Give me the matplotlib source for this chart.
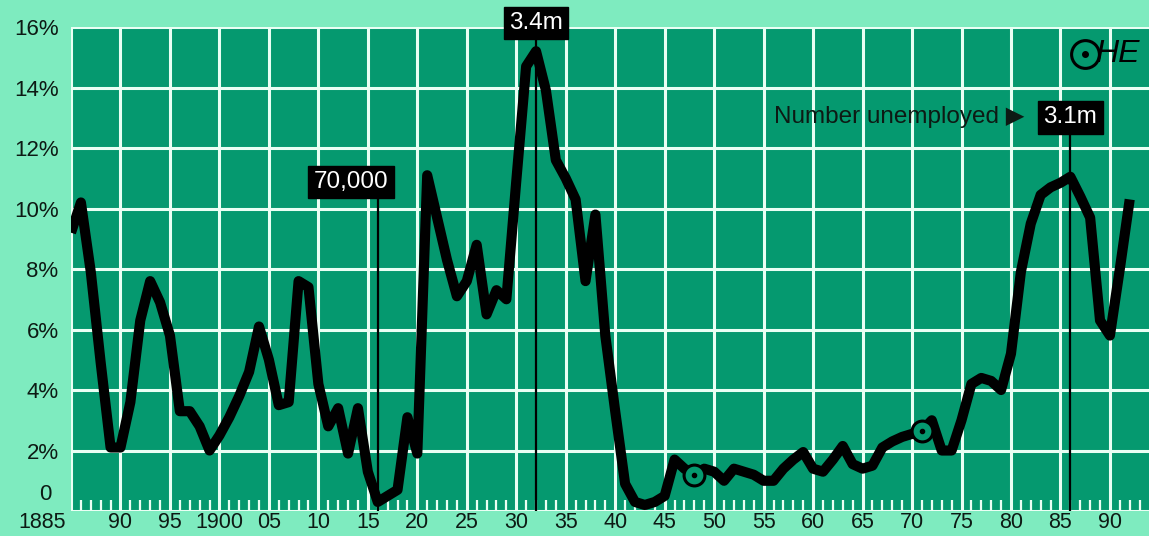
import matplotlib
matplotlib.use("Agg")
import matplotlib.pyplot as plt
from matplotlib.ticker import FixedLocator
from matplotlib.transforms import offset_copy

# Unemployment rate (%), one value per year
years = list(range(1885, 1993))
rate = [
    9.2, 10.2, 7.9, 4.9, 2.1, 2.1, 3.6, 6.3, 7.6, 6.9,        # 1885-1894
    5.8, 3.3, 3.3, 2.8, 2.0, 2.5, 3.1, 3.8, 4.6, 6.1,         # 1895-1904
    5.0, 3.5, 3.6, 7.6, 7.4, 4.2, 2.8, 3.4, 1.9, 3.4,         # 1905-1914
    1.3, 0.3, 0.5, 0.7, 3.1, 1.9, 11.1, 9.7, 8.3, 7.1,        # 1915-1924
    7.6, 8.8, 6.5, 7.3, 7.0, 10.9, 14.7, 15.2, 13.9, 11.6,    # 1925-1934
    11.0, 10.3, 7.6, 9.8, 5.8, 3.3, 0.9, 0.3, 0.2, 0.3,       # 1935-1944
    0.5, 1.7, 1.4, 1.2, 1.4, 1.3, 1.0, 1.4, 1.3, 1.2,         # 1945-1954
    1.0, 1.0, 1.4, 1.7, 1.95, 1.4, 1.3, 1.7, 2.15, 1.55,      # 1955-1964
    1.4, 1.5, 2.1, 2.3, 2.45, 2.55, 2.65, 3.0, 2.0, 2.0,      # 1965-1974
    3.0, 4.2, 4.4, 4.3, 4.0, 5.2, 7.9, 9.5, 10.45, 10.7,      # 1975-1984
    10.85, 11.05, 10.4, 9.7, 6.3, 5.8, 8.0, 10.3,             # 1985-1992
]

x_ticks = list(range(1885, 1995, 5))
x_labels = ["1885", "90", "95", "1900", "05", "10", "15", "20", "25", "30", "35",
            "40", "45", "50", "55", "60", "65", "70", "75", "80", "85", "90"]
y_ticks = [0, 2, 4, 6, 8, 10, 12, 14, 16]
y_labels = ["0", "2%", "4%", "6%", "8%", "10%", "12%", "14%", "16%"]

# Call-outs: year of the marker line and the number unemployed
callout_years = [1916, 1932, 1986]
callout_text = ["70,000", "3.4m", "3.1m"]
ring_years = [1948, 1971]

OUTER = "#7eebbf"
INNER = "#05996f"
GRID = "#e9fff4"
INK = "#0d1a14"
FONT = ["Liberation Sans", "DejaVu Sans"]

plt.rcParams["font.family"] = FONT

fig = plt.figure(figsize=(11.49, 5.36), dpi=100, facecolor=OUTER)
ax = fig.add_axes([0.0618, 0.0466, 0.9382, 0.903])
ax.set_facecolor(INNER)
ax.set_xlim(1885, 1993.95)
ax.set_ylim(0, 16)

for s in ax.spines.values():
    s.set_visible(False)

# grid
ax.xaxis.set_major_locator(FixedLocator(x_ticks))
ax.yaxis.set_major_locator(FixedLocator(y_ticks))
ax.grid(True, which="major", color=GRID, linewidth=2.2, zorder=1)
ax.set_axisbelow(True)

# yearly minor ticks along the bottom
minor = [y for y in range(1886, 1994) if (y - 1885) % 5 != 0]
ax.xaxis.set_minor_locator(FixedLocator(minor))
ax.tick_params(axis="x", which="minor", direction="in", length=8, width=1.6,
               color=GRID, bottom=True)
ax.tick_params(axis="both", which="major", length=0)

# x labels; the first one sits left of the plot edge
ax.set_xticklabels([""] + x_labels[1:], fontsize=15.5, color=INK)
ax.tick_params(axis="x", which="major", pad=1)
ax.text(x_ticks[0], 0, x_labels[0], ha="right", va="top", fontsize=15.5,
        color=INK, clip_on=False,
        transform=offset_copy(ax.transData, fig=fig, x=-5, y=-1, units="dots"))

ax.set_yticklabels([""] + y_labels[1:], fontsize=16, color=INK)
ax.tick_params(axis="y", which="major", pad=9)
ax.text(-0.018, 0.035, y_labels[0], transform=ax.transAxes, ha="right",
        va="center", fontsize=16, color=INK)

# call-out marker lines
line_tops = [10.38, 15.67, 12.56]
for yr, top in zip(callout_years, line_tops):
    ax.plot([yr, yr], [0, top], color="black", linewidth=1.6, zorder=3,
            clip_on=False, solid_capstyle="butt")

# main series
ax.plot(years, rate, color="black", linewidth=7.3, zorder=4,
        solid_joinstyle="round", solid_capstyle="butt")

# ringed points
for yr in ring_years:
    v = rate[years.index(yr)]
    ax.plot(yr, v, marker="o", markersize=15, markerfacecolor=INNER,
            markeredgecolor="black", markeredgewidth=2.2, zorder=5)
    ax.plot(yr, v, marker="o", markersize=3, color="black", zorder=6)

# call-out boxes
box = dict(boxstyle="square,pad=0.22", facecolor="black", edgecolor="black")
label_pos = [(1913.3, 10.88), (1932.0, 16.13), (1986.0, 13.02)]
for (bx, by), txt in zip(label_pos, callout_text):
    ax.text(bx, by, txt, ha="center", va="center", fontsize=17.5, color="white",
            bbox=box, zorder=7, clip_on=False)

ax.text(1981.35, 13.02, "Number unemployed \u25b6", ha="right", va="center",
        fontsize=17.5, color=INK, family=FONT, zorder=7)

# logo: ringed O followed by HE
ax.plot(1987.45, 15.1, marker="o", markersize=20, markerfacecolor="none",
        markeredgecolor="black", markeredgewidth=2.2, clip_on=False, zorder=7)
ax.plot(1987.45, 15.1, marker="o", markersize=4, color="black",
        clip_on=False, zorder=7)
ax.text(1988.5, 15.1, "HE", ha="left", va="center", fontsize=23,
        style="italic", color="black", zorder=7)

fig.savefig("out.png", dpi=100, facecolor=OUTER)
